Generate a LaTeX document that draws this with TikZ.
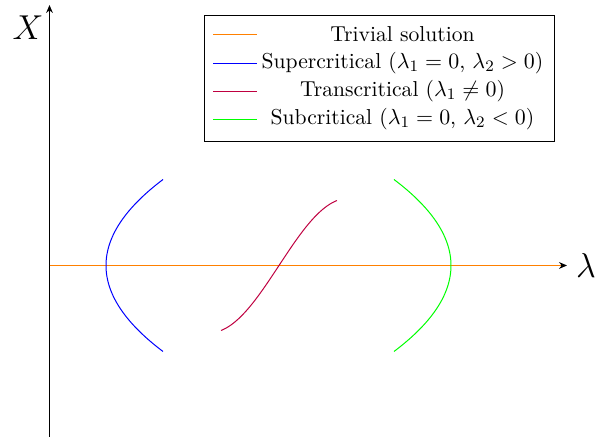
\documentclass[tikz,border=0pt]{standalone}
\usetikzlibrary{arrows.meta}
\definecolor{cOrange}{rgb}{1,0.5,0}
\definecolor{cBlue}{rgb}{0,0,1}
\definecolor{cPurple}{rgb}{0.75,0,0.25}
\definecolor{cGreen}{rgb}{0,1,0}
\begin{document}
\begin{tikzpicture}[x=0.5pt,y=-0.5pt]
\tikzset{
  axisline/.style={draw=black,line width=0.5pt,-{Stealth[length=4pt,width=3.4pt]}},
  curve/.style={line width=0.5pt},
  legtext/.style={font=\fontsize{10.8}{13}\selectfont,anchor=center,inner sep=0pt},
  biglabel/.style={font=\fontsize{19}{22}\selectfont,inner sep=1pt},
  legbox/.style={draw=black,line width=0.5pt,fill=white}
}
\useasboundingbox (0,0) rectangle (595,437);
% axes
\coordinate (O) at (49.5,265.5);
\coordinate (xend) at (567,265.5);
\coordinate (oend) at (561,265.5);
\coordinate (ybot) at (49.5,437);
\coordinate (ytop) at (49.5,5);
\draw[axisline] (O) -- (xend);
\draw[axisline] (ybot) -- (ytop);
\draw[draw=cOrange,curve] (O) -- (oend);
\node[biglabel] (xlab) at (28,28) {$X$};
\node[biglabel] (llab) at (586,266) {$\lambda$};
% curves
\draw[draw=cBlue,curve] plot[domain=-1:1,samples=80,variable=\t] ({106+57*\t*\t},{265.5+86*\t});
\draw[draw=cGreen,curve] plot[domain=-1:1,samples=80,variable=\t] ({451-57*\t*\t},{265.5+86*\t});
\draw[draw=cPurple,curve] plot[domain=-1:1,samples=80,variable=\t] ({279+58*\t},{265.5-65*sin(75*\t)/sin(75)});
% legend
\draw[legbox] (204.5,15.5) rectangle (554.5,141.5);
\coordinate (l1a) at (213,34.5);  \coordinate (l1b) at (257,34.5);
\coordinate (l2a) at (213,63.5);  \coordinate (l2b) at (257,63.5);
\coordinate (l3a) at (213,91.5);  \coordinate (l3b) at (257,91.5);
\coordinate (l4a) at (213,119.5); \coordinate (l4b) at (257,119.5);
\draw[draw=cOrange,curve] (l1a) -- (l1b);
\draw[draw=cBlue,curve] (l2a) -- (l2b);
\draw[draw=cPurple,curve] (l3a) -- (l3b);
\draw[draw=cGreen,curve] (l4a) -- (l4b);
\node[legtext] (t1) at (402.5,34) {Trivial solution};
\node[legtext] (t2) at (402.5,63) {Supercritical ($\lambda_1 = 0$, $\lambda_2 > 0$)};
\node[legtext] (t3) at (402.5,91) {Transcritical ($\lambda_1 \neq 0$)};
\node[legtext] (t4) at (402.5,119) {Subcritical ($\lambda_1 = 0$, $\lambda_2 < 0$)};
\end{tikzpicture}
\end{document}
